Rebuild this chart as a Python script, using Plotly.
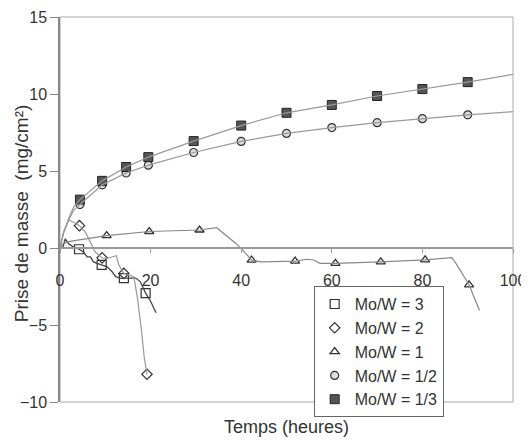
import plotly.graph_objects as go

# ---- data ----
# Mo/W = 3 (open squares, dark line)
t3_line = [0, 0.6, 1.16, 1.9, 3.0, 4.2, 5.2, 6.0, 6.7, 7.4, 8.2, 9.2, 10.4, 11.5, 12.3, 13.4, 14.1, 16.7, 17.7, 18.9, 20.0, 21.2]
v3_line = [0, 0, 0.6, 0.28, 0.06, -0.08, -0.26, -0.58, -0.58, -0.9, -1.0, -1.1, -1.22, -1.54, -1.86, -1.97, -1.95, -1.95, -2.18, -2.93, -3.46, -4.21]
t3_mk = [4.2, 9.2, 14.1, 18.9]
v3_mk = [-0.08, -1.1, -1.95, -2.93]

# Mo/W = 2 (open diamonds)
t2_line = [0, 0.7, 1.9, 3.0, 4.3, 5.6, 6.7, 7.8, 9.3, 10.4, 11.8, 12.4, 13.0, 14.1, 16.3, 17.1, 18.0, 18.6, 19.2]
v2_line = [0, 0.9, 1.85, 1.67, 1.45, 1.03, 0.38, -0.26, -0.64, -0.68, -0.55, -0.5, -1.1, -1.65, -1.86, -3.25, -5.4, -7.1, -8.2]
t2_mk = [4.3, 9.3, 14.1, 19.2]
v2_mk = [1.45, -0.64, -1.65, -8.2]

# Mo/W = 1 (open triangles)
t1_line = [0, 0.8, 2.5, 10.3, 19.7, 30.8, 34.6, 38.9, 40.4, 42.3, 44.5, 51.9, 54.5, 56.0, 57.4, 60.8, 70.8, 80.6, 86.5, 87.4, 90.3, 92.6]
v1_line = [0, 0.3, 0.45, 0.8, 1.07, 1.17, 1.32, 0.28, -0.15, -0.79, -0.9, -0.85, -0.73, -0.78, -1.0, -1.0, -0.9, -0.77, -0.63, -1.0, -2.39, -4.06]
t1_mk = [10.3, 19.7, 30.8, 42.3, 51.9, 60.8, 70.8, 80.6, 90.3]
v1_mk = [0.8, 1.07, 1.17, -0.79, -0.85, -1.0, -0.9, -0.77, -2.39]

# Mo/W = 1/2 (grey circles)
t12_line = [0, 0.8, 1.9, 3.0, 4.4, 9.3, 14.6, 19.5, 29.5, 40, 50, 60, 70, 80, 90, 100]
v12_line = [0, 1.0, 1.8, 2.45, 2.82, 4.1, 4.87, 5.38, 6.2, 6.92, 7.44, 7.82, 8.14, 8.4, 8.65, 8.85]
t12_mk = [4.4, 9.3, 14.6, 19.5, 29.5, 40, 50, 60, 70, 80, 90]
v12_mk = [2.82, 4.1, 4.87, 5.38, 6.2, 6.92, 7.44, 7.82, 8.14, 8.4, 8.65]

# Mo/W = 1/3 (filled dark squares)
t13_line = [0, 0.8, 1.9, 3.0, 4.4, 9.3, 14.6, 19.5, 29.5, 40, 50, 60, 70, 80, 90, 100]
v13_line = [0, 1.05, 1.9, 2.65, 3.14, 4.36, 5.26, 5.9, 6.94, 7.95, 8.78, 9.29, 9.87, 10.32, 10.77, 11.28]
t13_mk = [4.4, 9.3, 14.6, 19.5, 29.5, 40, 50, 60, 70, 80, 90]
v13_mk = [3.14, 4.36, 5.26, 5.9, 6.94, 7.95, 8.78, 9.29, 9.87, 10.32, 10.77]

x_ticks = [0, 20, 40, 60, 80, 100]
y_ticks = [-10, -5, 0, 5, 10, 15]

FONT = "Liberation Sans, Arial, sans-serif"
TXT = "#333333"

series = [
    ("Mo/W = 3", t3_line, v3_line, t3_mk, v3_mk, "#444444", 1.3,
     dict(symbol="square-open", size=9, color="#333333", line=dict(width=1.2))),
    ("Mo/W = 2", t2_line, v2_line, t2_mk, v2_mk, "#999999", 1.2,
     dict(symbol="diamond-open", size=8, color="#333333", line=dict(width=1.2))),
    ("Mo/W = 1", t1_line, v1_line, t1_mk, v1_mk, "#888888", 1.2,
     dict(symbol="triangle-up-open", size=8, color="#333333", line=dict(width=1.3))),
    ("Mo/W = 1/2", t12_line, v12_line, t12_mk, v12_mk, "#999999", 1.2,
     dict(symbol="circle", size=8, color="#dddddd", line=dict(width=1.2, color="#333333"))),
    ("Mo/W = 1/3", t13_line, v13_line, t13_mk, v13_mk, "#999999", 1.2,
     dict(symbol="square", size=9, color="#555555", line=dict(width=1, color="#222222"))),
]

fig = go.Figure()
# lines on the zero-crossing axis (x2), markers on the bottom axis (x)
for name, tl, vl, tm, vm, lc, lw, mk in series:
    fig.add_trace(go.Scatter(x=tl, y=vl, mode="lines", line=dict(color=lc, width=lw),
                             showlegend=False, hoverinfo="skip", xaxis="x2"))
for name, tl, vl, tm, vm, lc, lw, mk in series:
    fig.add_trace(go.Scatter(x=tm, y=vm, mode="markers", marker=mk, name=name))

fig.update_layout(
    width=521, height=432,
    margin=dict(l=52, r=16, t=9, b=38),
    paper_bgcolor="white", plot_bgcolor="white",
    font=dict(family=FONT, size=16, color=TXT),
    xaxis=dict(range=[0, 100], anchor="y", side="bottom",
               showticklabels=False, ticks="", showline=False, showgrid=False,
               zeroline=False, automargin=False,
               title=dict(text="Temps (heures)", standoff=18,
                          font=dict(size=18, color=TXT))),
    xaxis2=dict(range=[0, 100], tickvals=x_ticks, overlaying="x", anchor="free", position=0.4,
                side="bottom", showline=True, linecolor="#999999", linewidth=1.5,
                ticks="outside", ticklen=4, tickcolor="#999999",
                ticklabelstandoff=14, showgrid=False, zeroline=False, automargin=False,
                ticklabeloverflow="allow",
                tickfont=dict(size=16, color=TXT)),
    yaxis=dict(range=[-10, 15], tickvals=y_ticks, showline=True,
               linecolor="#888888", linewidth=1.5, ticks="outside", ticklen=8,
               tickcolor="#888888", showgrid=False, zeroline=False, automargin=False,
               ticklabeloverflow="allow",
               tickfont=dict(size=16, color=TXT)),
    legend=dict(x=0.56, y=0.301, xanchor="left", yanchor="top",
                bgcolor="white", bordercolor="#666666", borderwidth=1,
                font=dict(size=16, color=TXT), tracegroupgap=0),
    shapes=[dict(type="rect", xref="paper", yref="paper", x0=0, x1=1, y0=0, y1=1,
                 line=dict(color="#aaaaaa", width=1), layer="below")],
    annotations=[dict(text="Prise de masse  (mg/cm²)", textangle=-90,
                      xref="paper", yref="paper", x=-0.086, y=0.488,
                      xanchor="center", yanchor="middle", showarrow=False,
                      font=dict(size=19, color=TXT))],
)

fig.write_html("out.html")
